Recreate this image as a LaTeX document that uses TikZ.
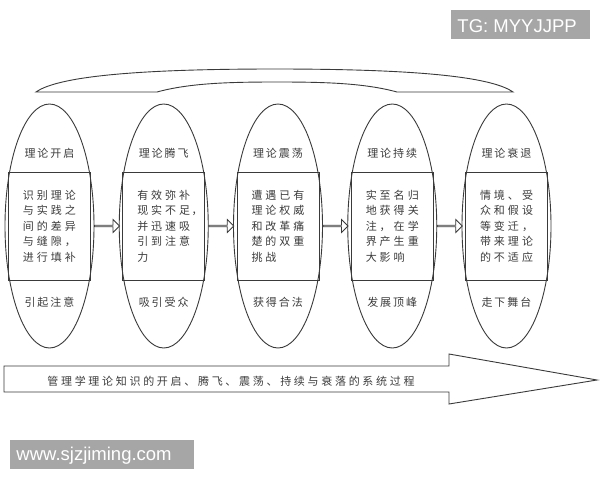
\documentclass[tikz,border=0pt]{standalone}
\usepackage{fontspec}
\setmainfont{Liberation Sans}
\newfontfamily\cjk{Noto Sans CJK SC}
\usetikzlibrary{shapes.geometric,shapes.arrows,calc}
\definecolor{ln}{HTML}{3A3A3A}
\definecolor{tx}{HTML}{3C3C3C}
\definecolor{wm}{HTML}{A6A6A6}
\newlength\cw
\makeatletter
\def\spc#1{\spc@loop#1\relax}
\def\spc@loop#1{\ifx\relax#1\else\makebox[\cw][c]{#1}\expandafter\spc@loop\fi}
\makeatother
\begin{document}
\begin{tikzpicture}[x=1pt,y=-1pt,line width=0.9pt,draw=ln,
  stage/.style={ellipse,draw=ln,minimum width=89pt,minimum height=244pt,inner sep=0pt},
  bodybox/.style={rectangle,draw=ln,minimum width=82pt,minimum height=108pt,inner sep=0pt},
  lbl/.style={font=\cjk\fontsize{11}{13}\selectfont\setlength\cw{13pt},text=tx,inner sep=0pt},
  body/.style={font=\cjk\fontsize{11}{15.5}\selectfont\setlength\cw{14pt},text=tx,inner sep=0pt,align=left,text width=56pt},
  linkarrow/.style={single arrow,draw=ln,fill=white,line width=0.8pt,minimum width=13pt,
    single arrow head extend=3pt,inner sep=0pt,minimum height=25pt},
  wmtext/.style={text=white,font=\fontsize{18.5}{20}\selectfont,inner sep=0pt,anchor=base west}]
\useasboundingbox (0,0) rectangle (600,480);
\fill[white] (0,0) rectangle (600,480);

% top arc
\draw[ln] (36,92) .. controls (60,75) and (150,69) .. (275,69)
  .. controls (400,69) and (489,75) .. (513,92) -- (397,92)
  .. controls (364,83) and (324,82) .. (277,82)
  .. controls (230,82) and (190,83) .. (157,92) -- cycle;

% stages
\foreach \i/\x in {1/49.5,2/163.75,3/278,4/392.25,5/506.5}{
  \node[stage] (e\i) at (\x,226) {};
  \node[bodybox] (r\i) at (\x,226) {};
}
\node[lbl] (t1) at (e1 |- 0,153) {\spc{理论开启}};
\node[lbl] (t2) at (e2 |- 0,153) {\spc{理论腾飞}};
\node[lbl] (t3) at (e3 |- 0,153) {\spc{理论震荡}};
\node[lbl] (t4) at (e4 |- 0,153) {\spc{理论持续}};
\node[lbl] (t5) at (e5 |- 0,153) {\spc{理论衰退}};

\node[body] (b1) at (r1) {\spc{识别理论}\\\spc{与实践之}\\\spc{间的差异}\\\spc{与缝隙，}\\\spc{进行填补}};
\node[body] (b2) at (r2) {\spc{有效弥补}\\\spc{现实不足}\rlap{，}\\\spc{并迅速吸}\\\spc{引到注意}\\\spc{力}};
\node[body] (b3) at (r3) {\spc{遭遇已有}\\\spc{理论权威}\\\spc{和改革痛}\\\spc{楚的双重}\\\spc{挑战}};
\node[body] (b4) at (r4) {\spc{实至名归}\\\spc{地获得关}\\\spc{注，在学}\\\spc{界产生重}\\\spc{大影响}};
\node[body] (b5) at (r5) {\spc{情境、受}\\\spc{众和假设}\\\spc{等变迁，}\\\spc{带来理论}\\\spc{的不适应}};

\node[lbl] (u1) at (e1 |- 0,302) {\spc{引起注意}};
\node[lbl] (u2) at (e2 |- 0,302) {\spc{吸引受众}};
\node[lbl] (u3) at (e3 |- 0,302) {\spc{获得合法}};
\node[lbl] (u4) at (e4 |- 0,302) {\spc{发展顶峰}};
\node[lbl] (u5) at (e5 |- 0,302) {\spc{走下舞台}};

% link arrows
\foreach \a/\b in {1/2,2/3,3/4,4/5}{
  \node[linkarrow] (a\a\b) at ($(e\a.east)!0.5!(e\b.west)$) {};
}

% big process arrow
\draw[ln,fill=white] (4,366) -- (449,366) -- (449,354) -- (597,380) -- (449,404) -- (449,392) -- (4,392) -- cycle;
\node[lbl,font=\cjk\fontsize{11}{13}\selectfont\setlength\cw{13.7pt}] (proc) at (231,381)
  {\spc{管理学理论知识的开启、腾飞、震荡、持续与衰落的系统过程}};

% watermarks
\fill[wm] (451,10) rectangle (590,39);
\node[wmtext] (tg) at (457,32) {TG: MYYJJPP};
\fill[wm] (10,440) rectangle (194,469);
\node[wmtext] (www) at (16,460) {www.sjzjiming.com};
\end{tikzpicture}
\end{document}
